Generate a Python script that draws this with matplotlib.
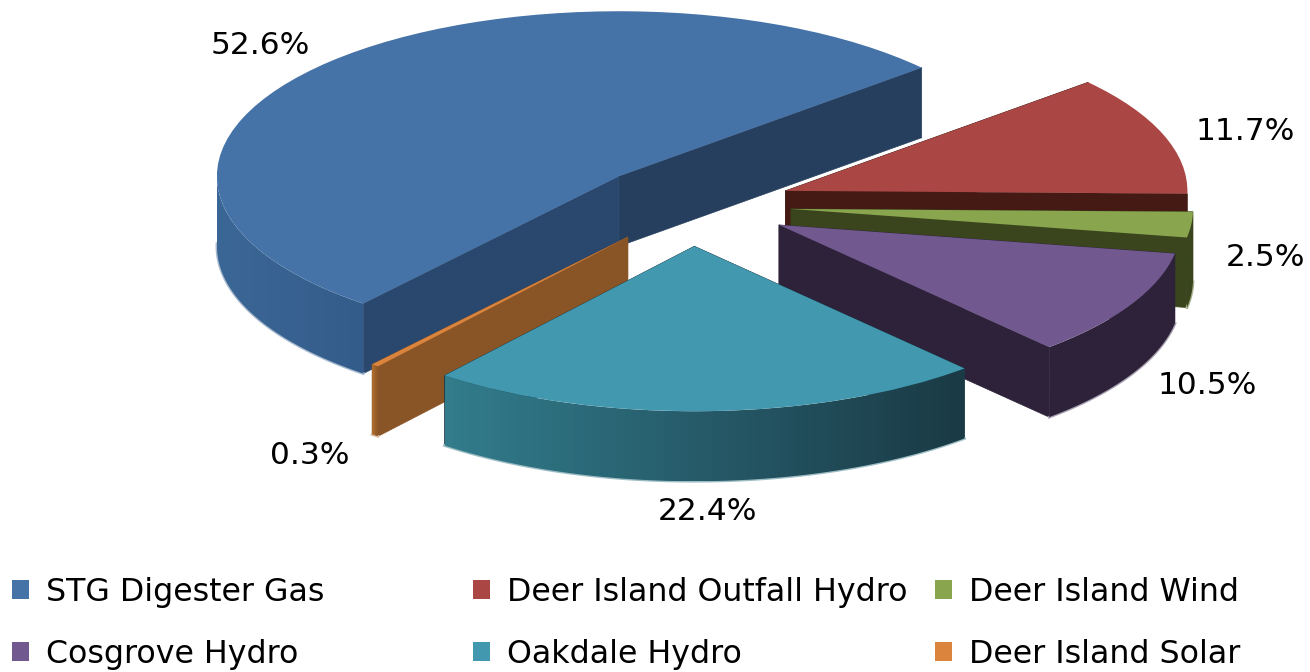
import numpy as np
import matplotlib
matplotlib.use("Agg")
import matplotlib.pyplot as plt
from matplotlib.colors import LinearSegmentedColormap
from matplotlib.patches import Patch, Polygon

# data, in legend order (clockwise round the pie)
names = ["STG Digester Gas", "Deer Island Outfall Hydro", "Deer Island Wind",
         "Cosgrove Hydro", "Oakdale Hydro", "Deer Island Solar"]
shares = [52.6, 11.7, 2.5, 10.5, 22.4, 0.3]
share_labels = ["52.6%", "11.7%", "2.5%", "10.5%", "22.4%", "0.3%"]

top_colors = ["#4572A7", "#AA4643", "#89A54E", "#71588F", "#4198AF", "#DB843D"]
cut_colors = ["#2A486E", "#451A15", "#3A451D", "#2D2239", "#1A3A45", "#8A5526"]
cut_colors_right = ["#263F5E", "#451A15", "#3A451D", "#2D2239", "#1A3A45", "#8A5526"]
wall_colors = [["#3B6796", "#345C8A"], ["#451A15", "#451A15"], ["#3A451D", "#3A451D"],
               ["#2D2239", "#2D2239"], ["#327C8C", "#265A69", "#1A3A45"], ["#B5702E", "#8A5526"]]
fringe = ["#A9BBD0", "#C9A9A6", "#A8B090", "#A69FB0", "#9DBDC4", "#D9BFA8"]

# pixel size of the picture and how the pie sits in it
W, H = 1310, 672
cx, cy = 691, 205      # pie centre
rx, ry = 402, 165      # ellipse radii
depth = 70 / ry
explode = 0.25
start = 230.5

# where the percent labels sit
label_x = [260, 1245, 1265, 1207, 707, 310]
label_y = [46, 132, 258, 386, 511, 455]

# back to front
draw_order = [0, 1, 2, 3, 5, 4]

fig = plt.figure(figsize=(W / 100, H / 100), dpi=100)
ax = fig.add_axes([0, 0, 1, 1])

wedges, _ = ax.pie(shares, explode=[explode] * len(shares), startangle=start,
                   counterclock=False, colors=top_colors, radius=1,
                   wedgeprops={"linewidth": 0})
ax.set_aspect("auto")

for z, i in enumerate(draw_order):
    w = wedges[i]
    base = 10 * z
    w.set_zorder(base + 5)
    c = np.array(w.center)
    t1, t2 = w.theta1, w.theta2

    # flat cut faces
    for t, col in ((t1, cut_colors_right[i]), (t2, cut_colors[i])):
        a = np.radians(t)
        e = c + np.array([np.cos(a), np.sin(a)])
        pts = [c, e, e - [0, depth], c - [0, depth]]
        ax.add_patch(Polygon(pts, closed=True, fc=col, ec=col,
                             lw=0.5, zorder=base + 2 if t == t2 else base + 1))

    # outer wall, only the part facing us
    th = np.radians(np.linspace(t1, t2, 200))
    th = th[np.sin(th) < 0.02]
    if len(th) < 2:
        th = np.radians(np.linspace(t1 - 360, t2 - 360, 200))
        th = th[np.sin(th) < 0.02]
    if len(th) >= 2:
        x = c[0] + np.cos(th)
        y = c[1] + np.sin(th)
        px = np.r_[x, x[::-1]]
        py = np.r_[y, (y - depth)[::-1]]
        cmap = LinearSegmentedColormap.from_list("wall", wall_colors[i])
        im = ax.imshow(np.linspace(0, 1, 64).reshape(1, -1), cmap=cmap, aspect="auto",
                       extent=[x.min(), x.max(), py.min(), py.max()], zorder=base + 3)
        clip = Polygon(np.c_[px, py], closed=True, transform=ax.transData, fc="none", ec="none")
        ax.add_patch(clip)
        im.set_clip_path(clip)
        ax.plot(x, y - depth, color=fringe[i], lw=2, zorder=base + 2.5)

ax.set_xlim(-cx / rx, (W - cx) / rx)
ax.set_ylim((cy - H) / ry, cy / ry)
ax.axis("off")

for s, lx, ly in zip(share_labels, label_x, label_y):
    fig.text(lx / W, 1 - ly / H, s, ha="center", va="center", fontsize=22.5,
             family="DejaVu Sans", color="black")

# legend is three columns of uneven width
col_rows = [[0, 3], [1, 4], [2, 5]]
col_x = [12, 473, 935]
for rows, x0 in zip(col_rows, col_x):
    handles = [Patch(fc=top_colors[k], ec="none") for k in rows]
    fig.legend(handles, [names[k] for k in rows], loc="upper left", ncol=1,
               bbox_to_anchor=(x0 / W, 1 - 577 / H), bbox_transform=fig.transFigure,
               frameon=False, borderpad=0, borderaxespad=0,
               handlelength=0.54, handleheight=0.56, handletextpad=0.54,
               labelspacing=0.97, prop={"family": "DejaVu Sans", "size": 22.8})

fig.savefig("out.png", dpi=100)
